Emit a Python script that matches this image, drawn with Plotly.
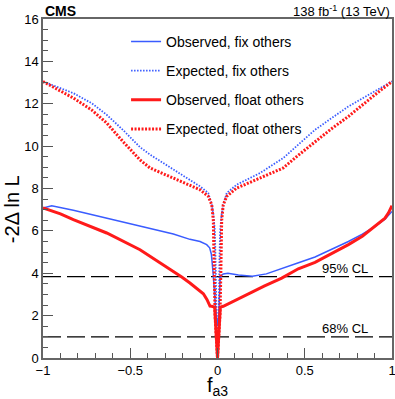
import plotly.graph_objects as go

# fa3 scan values
fa3_obs_fix = [-1.0, -0.95, -0.826, -0.635, -0.444, -0.253, -0.158, -0.1, -0.062, -0.045,
               -0.035, -0.028, -0.024, -0.015, -0.008, 0.002, 0.008, 0.015, 0.022, 0.033,
               0.06, 0.12, 0.2, 0.28, 0.368, 0.46, 0.559, 0.65, 0.75, 0.83,
               0.903, 0.96, 1.0]
nll_obs_fix = [7.08, 7.19, 6.97, 6.6, 6.21, 5.85, 5.6, 5.5, 5.35, 5.2,
               4.9, 4.4, 3.9, 2.8, 2.0, 1.5, 2.2, 3.7, 3.9, 3.97,
               4.0, 3.92, 3.86, 3.97, 4.21, 4.48, 4.77, 5.1, 5.5, 5.85,
               6.21, 6.55, 6.92]

fa3_obs_float = [-1.0, -0.9, -0.826, -0.635, -0.444, -0.349, -0.253, -0.205, -0.158, -0.119,
                 -0.1, -0.081, -0.06, -0.043, -0.033, -0.016, 0.0, 0.016, 0.033, 0.072,
                 0.12, 0.186, 0.27, 0.368, 0.463, 0.559, 0.65, 0.75, 0.83, 0.903,
                 0.96, 0.98, 1.0]
nll_obs_float = [7.08, 6.8, 6.53, 5.9, 5.11, 4.61, 4.09, 3.82, 3.54, 3.3,
                 3.17, 3.03, 2.75, 2.45, 2.44, 2.4, 0.0, 2.4, 2.44, 2.6,
                 2.8, 3.07, 3.4, 3.77, 4.21, 4.51, 4.9, 5.35, 5.75, 6.21,
                 6.6, 6.85, 7.19]

fa3_exp_fix = [-1.0, -0.9, -0.826, -0.72, -0.635, -0.54, -0.444, -0.387, -0.3, -0.215,
               -0.1, -0.053, -0.033, -0.024, -0.015, -0.011, -0.009, -0.006, -0.003, 0.0,
               0.003, 0.006, 0.009, 0.011, 0.015, 0.024, 0.033, 0.053, 0.11, 0.244,
               0.377, 0.46, 0.559, 0.65, 0.75, 0.83, 0.903, 1.0]
nll_exp_fix = [13.05, 12.75, 12.5, 12.02, 11.48, 10.75, 9.95, 9.6, 9.15, 8.73,
               8.1, 7.79, 7.23, 6.8, 6.0, 4.5, 3.0, 1.8, 0.8, 0.0,
               0.8, 1.8, 3.0, 4.5, 6.0, 6.8, 7.23, 7.79, 8.18, 8.73,
               9.44, 10.05, 10.77, 11.3, 11.87, 12.25, 12.58, 13.05]

fa3_exp_float = [-1.0, -0.9, -0.826, -0.72, -0.635, -0.54, -0.444, -0.387, -0.3, -0.215,
                 -0.1, -0.053, -0.033, -0.024, -0.02, -0.018, -0.014, -0.007, 0.0, 0.007,
                 0.014, 0.018, 0.02, 0.024, 0.033, 0.053, 0.11, 0.244, 0.377, 0.46,
                 0.559, 0.65, 0.75, 0.83, 0.903, 1.0]
nll_exp_float = [13.05, 12.6, 12.27, 11.7, 11.09, 10.2, 9.35, 8.97, 8.65, 8.34,
                 7.94, 7.63, 7.23, 6.5, 5.0, 3.5, 2.0, 1.0, 0.0, 1.0,
                 2.0, 3.5, 5.0, 6.5, 7.23, 7.63, 8.02, 8.49, 8.97, 9.55,
                 10.22, 10.8, 11.4, 11.95, 12.43, 13.05]

cl_levels = [3.84, 1.0]
cl_labels = ["95% CL", "68% CL"]

blue = "#3a5cff"
red = "#ff1a1a"
font = "Liberation Sans, Arial, sans-serif"

fig = go.Figure()
fig.add_trace(go.Scatter(x=fa3_obs_fix, y=nll_obs_fix, mode="lines", name="Observed, fix others",
                         legendgroup="a", line=dict(color=blue, width=1.5)))
fig.add_trace(go.Scatter(x=fa3_exp_fix, y=nll_exp_fix, mode="lines", name="Expected, fix others",
                         legendgroup="b", line=dict(color=blue, width=1.8, dash="1.5px,1.5px")))
fig.add_trace(go.Scatter(x=fa3_obs_float, y=nll_obs_float, mode="lines", name="Observed, float others",
                         legendgroup="c", line=dict(color=red, width=3)))
fig.add_trace(go.Scatter(x=fa3_exp_float, y=nll_exp_float, mode="lines", name="Expected, float others",
                         legendgroup="d", line=dict(color=red, width=3, dash="2px,1.5px")))

# CL reference lines
for lvl, lab in zip(cl_levels, cl_labels):
    fig.add_shape(type="line", xref="paper", x0=0, x1=1, yref="y", y0=lvl, y1=lvl,
                  line=dict(color="black", width=1.2, dash="18px,6px"), layer="below")
    fig.add_annotation(x=0.73, y=lvl, xref="x", yref="y", text=lab, showarrow=False,
                       xanchor="center", yanchor="bottom", yshift=-1,
                       font=dict(size=13, color="black", family=font))

fig.add_annotation(x=0, y=1, xref="paper", yref="paper", text="<b>CMS</b>", showarrow=False,
                   xanchor="left", yanchor="bottom", yshift=-2, font=dict(size=14, color="black", family=font))
fig.add_annotation(x=1, y=1, xref="paper", yref="paper", text="138 fb<sup>-1</sup> (13 TeV)",
                   showarrow=False, xanchor="right", yanchor="bottom", yshift=-2,
                   font=dict(size=13, color="black", family=font))
fig.add_annotation(x=-0.088, y=0.44, xref="paper", yref="paper", text="-2Δ ln L", textangle=-90,
                   showarrow=False, xanchor="center", yanchor="middle",
                   font=dict(size=20, color="black", family=font))

fig.update_layout(
    width=395, height=399,
    margin=dict(l=43, r=3, t=19, b=41, autoexpand=False),
    paper_bgcolor="white", plot_bgcolor="white",
    font=dict(family=font, color="black", size=13),
    showlegend=True,
    legend=dict(x=0.238, y=0.98, xanchor="left", yanchor="top", bgcolor="rgba(0,0,0,0)",
                tracegroupgap=8, itemwidth=30, font=dict(size=14, family=font)),
    xaxis=dict(range=[-1, 1], tickvals=[-1, -0.5, 0, 0.5, 1], ticks="inside", ticklen=10,
               tickcolor="#555", showline=True, linecolor="#666", linewidth=1.5, mirror=True,
               showgrid=False, zeroline=False, tickfont=dict(size=13), automargin=False,
               ticklabeloverflow="allow",
               minor=dict(dtick=0.1, ticks="inside", ticklen=5, tickcolor="#555"),
               title=dict(text="f<sub>a3</sub>", font=dict(size=20), standoff=4)),
    yaxis=dict(range=[0, 16], dtick=2, ticks="inside", ticklen=10, tickcolor="#555",
               showline=True, linecolor="#666", linewidth=1.5, mirror=True, automargin=False,
               showgrid=False, zeroline=False, tickfont=dict(size=13),
               minor=dict(dtick=0.5, ticks="inside", ticklen=5, tickcolor="#555")),
)

# drop the browser's default body margin so the figure sits at the page corner
fig.write_html("out.html", config={"displayModeBar": False},
               post_script="document.body.style.margin = '0';")
